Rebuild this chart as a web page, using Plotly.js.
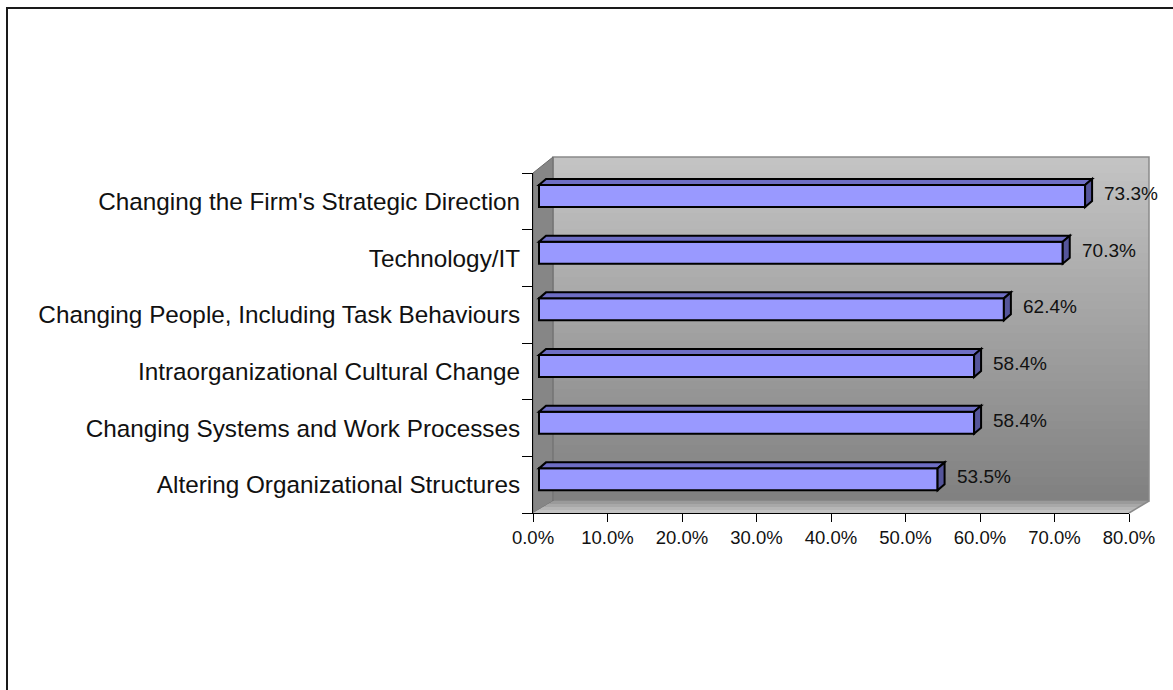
<!DOCTYPE html>
<html>
<head>
<meta charset="utf-8">
<script src="https://cdn.plot.ly/plotly-3.0.1.min.js"></script>
<style>html,body{margin:0;padding:0;background:#fff;}#chart{width:1173px;height:690px;}</style>
</head>
<body>
<div id="chart"></div>
<script>
const categories = [
  "Changing the Firm's Strategic Direction",
  "Technology/IT",
  "Changing People, Including Task Behaviours",
  "Intraorganizational Cultural Change",
  "Changing Systems and Work Processes",
  "Altering Organizational Structures"
];
const values = [73.3, 70.3, 62.4, 58.4, 58.4, 53.5];
const xTicks = [0, 10, 20, 30, 40, 50, 60, 70, 80];
const xTickLabels = ["0.0%", "10.0%", "20.0%", "30.0%", "40.0%", "50.0%", "60.0%", "70.0%", "80.0%"];

// ---- geometry (pixels) ----
const W = 1173, H = 690;
const L = 533, R = 1129, T = 173, B = 513;   // front plot frame
const xMax = 80;
const pxX = (R - L) / xMax;                    // px per %
const pxY = (B - T) / categories.length;       // px per category
const toPX = p => (p - L) / (R - L);           // pixel -> paper x
const toPY = p => (B - p) / (B - T);           // pixel -> paper y

const FONT = "Liberation Sans, Arial, sans-serif";

// bar 3D parameters in data units
const b0 = 6 / pxX;                 // front face x shift
const barTop = -16.3 / pxY;         // front face top relative to category center
const barW = 22 / pxY;              // front face height
const dX = 7 / pxX, dY = -6 / pxY;  // bar depth vector

const idx = categories.map((c, i) => i);

const shapes = [];
// wall depth
const wdx = 20, wdyTop = 16, wdyBot = 12;

// back wall gradient strips
const wallTop = T - wdyTop, wallBot = B - wdyBot;
const nStrips = 43;
const lerp = (a, b, t) => Math.round(a + (b - a) * t);
for (let k = 0; k < nStrips; k++) {
  const y0 = wallTop + (wallBot - wallTop) * k / nStrips;
  const y1 = wallTop + (wallBot - wallTop) * (k + 1) / nStrips;
  const t = (k + 0.5) / nStrips;
  const g = lerp(196, 128, t);
  shapes.push({type: 'rect', xref: 'paper', yref: 'paper', layer: 'below',
    x0: toPX(L + wdx), x1: toPX(R + wdx), y0: toPY(y0), y1: toPY(y1 + 0.6),
    fillcolor: `rgb(${g},${g},${g})`, line: {width: 0}});
}
// back wall border
shapes.push({type: 'rect', xref: 'paper', yref: 'paper', layer: 'below',
  x0: toPX(L + wdx), x1: toPX(R + wdx), y0: toPY(wallTop), y1: toPY(wallBot),
  fillcolor: 'rgba(0,0,0,0)', line: {width: 1.5, color: '#8a8a8a'}});
// side wall
shapes.push({type: 'path', xref: 'paper', yref: 'paper', layer: 'below',
  path: `M ${toPX(L)} ${toPY(T)} L ${toPX(L + wdx)} ${toPY(wallTop)} L ${toPX(L + wdx)} ${toPY(wallBot)} L ${toPX(L)} ${toPY(B)} Z`,
  fillcolor: '#868686', line: {width: 1, color: '#6a6a6a'}});
// floor strips
const floorCols = ['#9a9a9a', '#a8a8a8', '#b6b6b6', '#c2c2c2'];
for (let k = 0; k < floorCols.length; k++) {
  const t0 = k / floorCols.length, t1 = (k + 1) / floorCols.length;
  const ya = wallBot + (B - wallBot) * t0, yb = wallBot + (B - wallBot) * t1;
  const xa = L + wdx * (1 - t0), xb = L + wdx * (1 - t1);
  shapes.push({type: 'path', xref: 'paper', yref: 'paper', layer: 'below',
    path: `M ${toPX(xa)} ${toPY(ya)} L ${toPX(xa + (R - L))} ${toPY(ya)} L ${toPX(xb + (R - L))} ${toPY(yb)} L ${toPX(xb)} ${toPY(yb)} Z`,
    fillcolor: floorCols[k], line: {width: 0}});
}
shapes.push({type: 'path', xref: 'paper', yref: 'paper', layer: 'below',
  path: `M ${toPX(R)} ${toPY(B)} L ${toPX(R + wdx)} ${toPY(wallBot)}`,
  line: {width: 1.5, color: '#8a8a8a'}});
// outer chart border
shapes.push({type: 'rect', xref: 'paper', yref: 'paper', layer: 'below',
  x0: toPX(7), x1: toPX(W + 20), y0: toPY(8), y1: toPY(H + 20),
  fillcolor: 'rgba(0,0,0,0)', line: {width: 2, color: '#1a1a1a'}});

// bar 3D faces (computed from data values)
values.forEach((v, i) => {
  const top = i + barTop, bot = top + barW;
  const xr = b0 + v;
  shapes.push({type: 'path', xref: 'x', yref: 'y', layer: 'above',
    path: `M ${b0} ${top} L ${b0 + dX} ${top + dY} L ${xr + dX} ${top + dY} L ${xr} ${top} Z`,
    fillcolor: '#6e6ec4', line: {width: 2, color: '#000'}});
  shapes.push({type: 'path', xref: 'x', yref: 'y', layer: 'above',
    path: `M ${xr} ${top} L ${xr + dX} ${top + dY} L ${xr + dX} ${bot + dY} L ${xr} ${bot} Z`,
    fillcolor: '#55559a', line: {width: 2, color: '#000'}});
});

// data labels
const annotations = values.map((v, i) => ({
  x: b0 + v, y: i, xref: 'x', yref: 'y', xanchor: 'left', yanchor: 'middle',
  xshift: 17, yshift: 8, showarrow: false,
  text: v.toFixed(1) + '%', font: {family: FONT, size: 19, color: '#111'}
}));

const trace = {
  type: 'bar', orientation: 'h',
  x: values, y: idx, base: values.map(() => b0),
  offset: barTop, width: barW,
  marker: {color: '#9999ff', line: {color: '#000', width: 2}},
  hoverinfo: 'skip'
};

const layout = {
  width: W, height: H,
  margin: {l: L, r: W - R, t: T, b: H - B, pad: 0},
  paper_bgcolor: '#ffffff', plot_bgcolor: 'rgba(0,0,0,0)',
  showlegend: false,
  font: {family: FONT, color: '#000'},
  xaxis: {
    range: [0, xMax], tickmode: 'array', tickvals: xTicks, ticktext: xTickLabels,
    ticks: 'outside', ticklen: 8, tickwidth: 1, tickcolor: '#000',
    showgrid: false, zeroline: false, showline: true, linecolor: '#000', linewidth: 1,
    tickfont: {family: FONT, size: 18.5, color: '#111'}, fixedrange: true
  },
  yaxis: {
    range: [categories.length - 0.5, -0.5],
    tickmode: 'array', tickvals: idx, ticktext: categories, ticks: '',
    minor: {tickvals: idx.map(i => i - 0.5).concat([categories.length - 0.5]), ticks: 'outside', ticklen: 10, tickcolor: '#000', tickwidth: 1, showgrid: false},
    ticklabelstandoff: 7,
    showgrid: false, zeroline: false, showline: true, linecolor: '#000', linewidth: 1,
    tickfont: {family: FONT, size: 24.3, color: '#111'}, fixedrange: true
  },
  shapes: shapes,
  annotations: annotations
};

Plotly.newPlot('chart', [trace], layout, {displayModeBar: false, staticPlot: true});
</script>
</body>
</html>
